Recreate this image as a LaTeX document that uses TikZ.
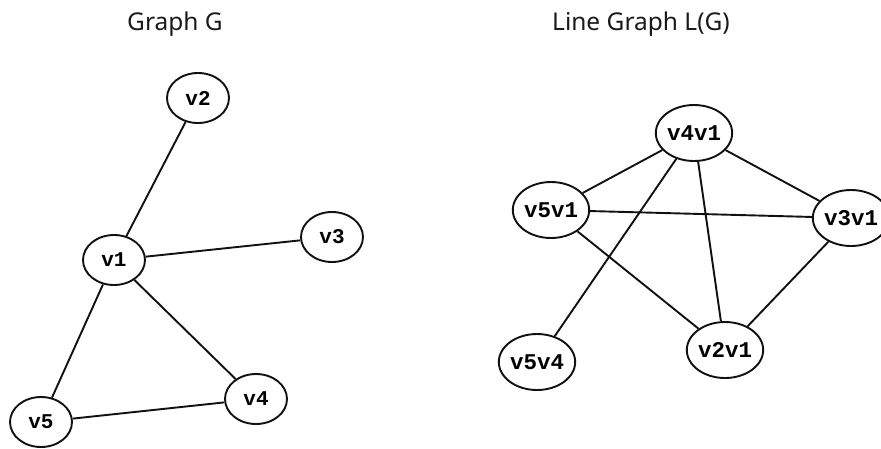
\documentclass[tikz,border=0pt]{standalone}
\usepackage{fontspec}
\setmainfont{Noto Sans}
\newfontfamily\vxfont{Liberation Mono}
\usepackage{tikz}
\usetikzlibrary{shapes.geometric}
\definecolor{ink}{HTML}{111111}
\definecolor{title}{HTML}{1A1A1A}
\tikzset{
  vtx/.style={draw=ink,ellipse,line width=1.9pt,fill=white,inner sep=0pt,minimum width=62pt,minimum height=50pt,font=\vxfont\bfseries\fontsize{21}{21}\selectfont},
  lvtx/.style={vtx,minimum width=63pt,minimum height=56pt,font=\vxfont\bfseries\fontsize{22.5}{22.5}\selectfont},
  edge/.style={draw=ink,line width=1.9pt},
  ttl/.style={font=\fontsize{24.5}{24.5}\selectfont,text=title}
}
\begin{document}
\begin{tikzpicture}[x=1pt,y=1pt]
  \useasboundingbox (0,0) rectangle (881,-448);
  % graph G
  \node[ttl] (tg) at (175,-24) {Graph G};
  \node[vtx] (v2) at (198,-98) {v2};
  \node[vtx] (v3) at (332,-237) {v3};
  \node[vtx] (v1) at (114,-260) {v1};
  \node[vtx] (v4) at (256,-399) {v4};
  \node[vtx] (v5) at (41,-422) {v5};
  \foreach \a/\b in {v1/v2,v1/v3,v1/v4,v1/v5,v5/v4} \draw[edge] (\a) -- (\b);

  % line graph L(G)
  \node[ttl] (tl) at (641,-24) {Line Graph L(G)};
  \node[lvtx] (v4v1) at (694,-133) {v4v1};
  \node[lvtx] (v5v1) at (551,-210) {v5v1};
  \node[lvtx] (v3v1) at (851,-218) {v3v1};
  \node[lvtx] (v5v4) at (537,-362) {v5v4};
  \node[lvtx] (v2v1) at (725,-350) {v2v1};
  \foreach \a/\b in {v4v1/v5v1,v4v1/v3v1,v4v1/v5v4,v4v1/v2v1,v5v1/v3v1,v5v1/v2v1,v3v1/v2v1}
    \draw[edge] (\a) -- (\b);
\end{tikzpicture}
\end{document}
